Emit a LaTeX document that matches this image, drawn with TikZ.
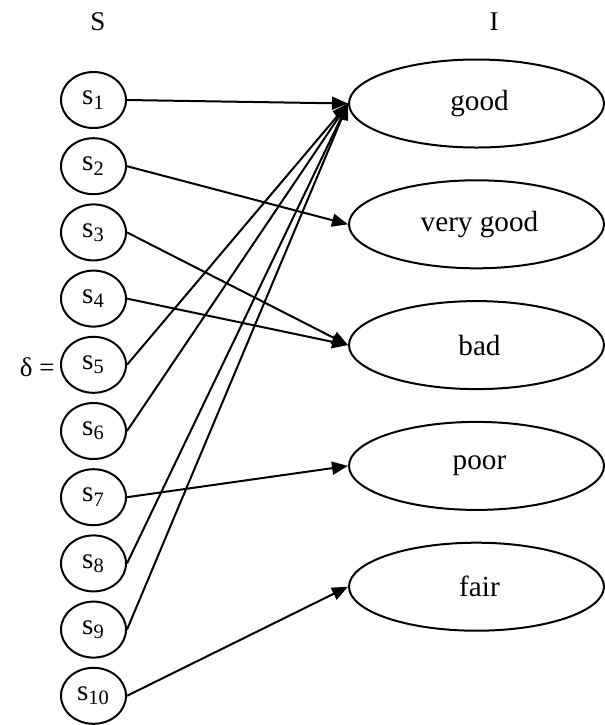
\documentclass[tikz,border=0pt]{standalone}
\usepackage{fontspec}
\setmainfont{Liberation Serif}
\usetikzlibrary{shapes.geometric,arrows.meta}
\begin{document}
\begin{tikzpicture}[x=0.5pt,y=-0.5pt,
  small/.style={draw,ellipse,line width=1pt,minimum width=32.5pt,minimum height=28pt,inner sep=0pt,font=\fontsize{14.6}{17}\selectfont},
  big/.style={draw,ellipse,line width=1pt,minimum width=127.5pt,minimum height=44pt,inner sep=0pt,font=\fontsize{14.6}{17}\selectfont},
  lbl/.style={inner sep=0pt,font=\fontsize{13.5}{16}\selectfont},
  conn/.style={line width=1pt,-{Triangle[length=8pt,width=6.5pt]}}]
\useasboundingbox (0,0) rectangle (605,725);
\node[lbl] (S) at (98,22) {S};
\node[lbl] (I) at (494,22) {I};
\node[lbl,anchor=east] (delta) at (55,367) {δ =};
\foreach \i in {1,...,10}{
  \node[small] (s\i) at (93.5,{100+66.2*(\i-1)}) {\raisebox{-1.5pt}{s\textsubscript{\i}}};
}
\node[big] (good) at (476.5,103.5) {\raisebox{-1.5pt}{\hspace{3pt}good}};
\node[big] (vgood) at (476.5,224.3) {\raisebox{-1.5pt}{\hspace{3pt}very good}};
\node[big] (bad) at (476.5,345.1) {\raisebox{-1.5pt}{\hspace{3pt}bad}};
\node[big] (poor) at (476.5,465.9) {\raisebox{-1.5pt}{\hspace{3pt}poor}};
\node[big] (fair) at (476.5,586.7) {\raisebox{-1.5pt}{\hspace{3pt}fair}};
\draw[conn] (s1.east) -- (good.west);
\draw[conn] (s2.east) -- (vgood.west);
\draw[conn] (s3.east) -- (bad.west);
\draw[conn] (s4.east) -- (bad.west);
\draw[conn] (s5.east) -- (good.west);
\draw[conn] (s6.east) -- (good.west);
\draw[conn] (s7.east) -- (poor.west);
\draw[conn] (s8.east) -- (good.west);
\draw[conn] (s9.east) -- (good.west);
\draw[conn] (s10.east) -- (fair.west);
\end{tikzpicture}
\end{document}
